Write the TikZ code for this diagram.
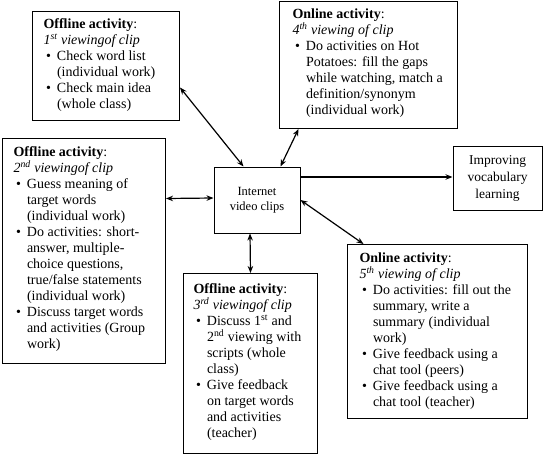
\documentclass[tikz,border=0pt]{standalone}
\usepackage{fontspec}
\setmainfont{Liberation Serif}
\usetikzlibrary{arrows.meta}
\newcommand{\bx}[4]{\parbox[c][#2][t]{#1}{\fontsize{14}{16}\selectfont\leftskip=#3\rightskip=0pt plus 1fil\parindent=0pt\parfillskip=0pt plus 1fil #4\par}}
\newcommand{\bitem}[1]{\par\noindent\hangindent=13.5pt\hangafter=1\makebox[13.5pt][l]{\hspace{2.5pt}\textbullet}#1}
\newcommand{\ttl}[3]{\rule{0pt}{#1}\textbf{#2}:\\\textit{#3}}
\tikzset{
  box/.style={draw, line width=1pt, anchor=north west, inner sep=0pt},
  cbox/.style={draw, line width=1pt, inner sep=0pt, align=center},
  arr/.style={{Stealth[length=7pt,width=5.5pt]}-{Stealth[length=7pt,width=5.5pt]}, line width=1.2pt},
  arr1/.style={-{Stealth[length=7pt,width=5.5pt]}, line width=1.2pt}
}
\begin{document}
\begin{tikzpicture}[x=1pt,y=-1pt]
\useasboundingbox (0,0) rectangle (545,455);
% boxes
\node[box] (b1) at (32,11) {\bx{147pt}{109pt}{11pt}{%
\ttl{17pt}{Offline activity}{1\textsuperscript{st} viewingof clip}
\bitem{Check word list\\(individual work)}
\bitem{Check main idea\\(whole class)}}};
\node[box] (b4) at (279,1) {\bx{178pt}{127pt}{13pt}{%
\ttl{17pt}{Online activity}{4\textsuperscript{th} viewing of clip}
\bitem{Do activities on Hot\\Potatoes: fill the gaps\\while watching, match a\\definition/synonym\\(individual work)}}};
\node[box] (b2) at (2,138) {\bx{163pt}{225pt}{11pt}{%
\ttl{18pt}{Offline activity}{2\textsuperscript{nd} viewingof clip}
\bitem{Guess meaning of\\target words\\(individual work)}
\bitem{Do activities: short-\\answer, multiple-\\choice questions,\\true/false statements\\(individual work)}
\bitem{Discuss target words\\and activities (Group\\work)}}};
\node[box] (b3) at (183,273) {\bx{134pt}{180pt}{10pt}{%
\ttl{20pt}{Offline activity}{3\textsuperscript{rd} viewingof clip}
\bitem{Discuss 1\textsuperscript{st} and\\2\textsuperscript{nd} viewing with\\scripts (whole\\class)}
\bitem{Give feedback\\on target words\\and activities\\(teacher)}}};
\node[box] (b5) at (347,244) {\bx{180pt}{174pt}{12pt}{%
\ttl{18pt}{Online activity}{5\textsuperscript{th} viewing of clip}
\bitem{Do activities: fill out the\\summary, write a\\summary (individual\\work)}
\bitem{Give feedback using a\\chat tool (peers)}
\bitem{Give feedback using a\\chat tool (teacher)}}};
\node[cbox, minimum width=86pt, minimum height=66pt, font=\fontsize{12.5}{15}\selectfont] (net) at (257,200) {Internet\\video clips};
\node[cbox, minimum width=89pt, minimum height=64pt, font=\fontsize{13.5}{17}\selectfont] (imp) at (497.5,178) {Improving\\vocabulary\\learning};
% connectors
\draw[arr] ([yshift=-21.5pt]b1.east) -- ([xshift=-13.5pt]net.north);
\draw[arr] ([xshift=-70pt]b4.south) -- ([xshift=23.5pt]net.north);
\draw[arr] ([yshift=52.5pt]b2.east) -- ([yshift=2pt]net.west);
\draw[arr1] ([yshift=23pt]net.east) -- ([yshift=1pt]imp.west);
\draw[arr] (net.east) -- ([xshift=-74pt]b5.north);
\draw[arr] ([xshift=-7pt]net.south) -- (b3.north);
\end{tikzpicture}
\end{document}
